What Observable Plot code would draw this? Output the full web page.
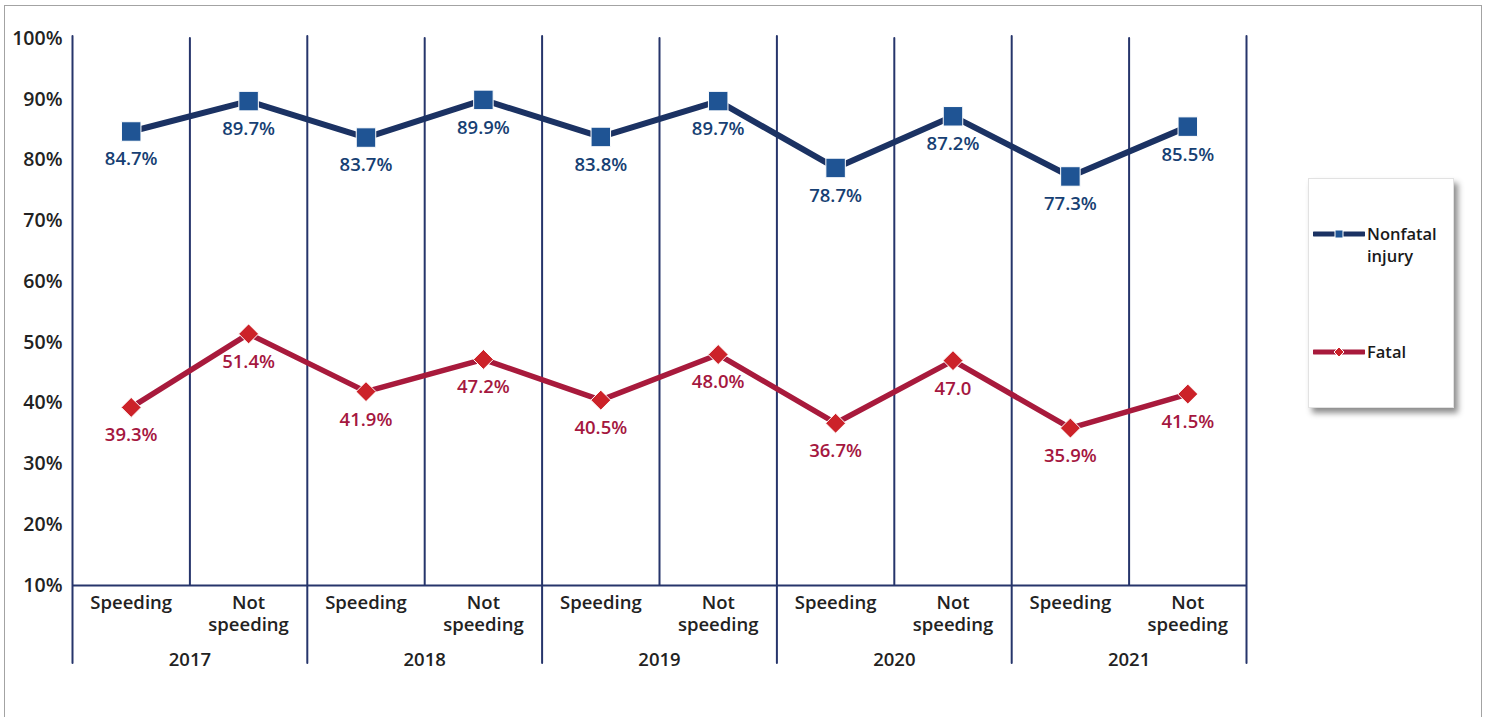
<!DOCTYPE html>
<html>
<head>
<meta charset="utf-8">
<script src="https://cdn.jsdelivr.net/npm/d3@7"></script>
<script src="https://cdn.jsdelivr.net/npm/@observablehq/plot@0.6"></script>
<style>
  html, body { margin: 0; padding: 0; background: #fff; }
  #wrap { position: relative; width: 1487px; height: 717px; overflow: hidden; font-family: "Open Sans", sans-serif; }
  #frame { position: absolute; left: 4px; top: 5px; width: 1478px; height: 760px; border: 1.5px solid #a3a3a3; box-sizing: border-box; pointer-events: none; }
  #chart { position: absolute; left: 0; top: 0; }
  #legend { position: absolute; left: 1308px; top: 178px; width: 146px; height: 230px; background: #fff;
            border: 1px solid #e2e2e2; box-sizing: border-box; box-shadow: 4px 5px 6px rgba(0,0,0,0.45); }
  .item { position: absolute; left: 4px; display: flex; align-items: flex-start; }
  .item span { font-size: 16.5px; font-weight: 600; color: #1a1a1a; line-height: 22px; margin-left: 2px; margin-top: -2px; }
</style>
</head>
<body>
<div id="wrap">
  <div id="chart"></div>
  <div id="legend"></div>
  <div id="frame"></div>
</div>
<script>
// ---- data ----
const years = [2017, 2018, 2019, 2020, 2021];
const statuses = ["Speeding", "Not speeding"];
const nonfatal = [84.7, 89.7, 83.7, 89.9, 83.8, 89.7, 78.7, 87.2, 77.3, 85.5];
const fatal = [39.3, 51.4, 41.9, 47.2, 40.5, 48.0, 36.7, 47.0, 35.9, 41.5];
const nonfatalLabels = ["84.7%", "89.7%", "83.7%", "89.9%", "83.8%", "89.7%", "78.7%", "87.2%", "77.3%", "85.5%"];
const fatalLabels = ["39.3%", "51.4%", "41.9%", "47.2%", "40.5%", "48.0%", "36.7%", "47.0", "35.9%", "41.5%"];
const yTicks = [10, 20, 30, 40, 50, 60, 70, 80, 90, 100];
const seriesNames = ["Nonfatal injury", "Fatal"];

// ---- build tables ----
const rows = nonfatal.map((v, i) => ({
  i, year: years[Math.floor(i / 2)], status: statuses[i % 2],
  nonfatal: v, fatal: fatal[i], nl: nonfatalLabels[i], fl: fatalLabels[i]
}));
const yearPos = years.map((y, k) => ({year: String(y), x: 2 * k + 0.5}));
const yearSeps = d3.range(years.length + 1).map(k => 2 * k - 0.5);
const innerSeps = years.map((y, k) => 2 * k + 0.5);

const navy = "#26356b";
const font = "'Open Sans', sans-serif";

const chart = Plot.plot({
  width: 1487,
  height: 717,
  marginLeft: 72,
  marginRight: 241,
  marginTop: 36,
  marginBottom: 54,
  style: {fontFamily: font, fontSize: "18.5px", background: "transparent", overflow: "visible"},
  x: {type: "linear", domain: [-0.5, 9.5], axis: null},
  y: {domain: [10, 100], range: [585, 38], axis: null},
  marks: [
    Plot.axisY(yTicks, {tickSize: 0, tickPadding: 10, tickFormat: d => d + "%", fill: "#222", fontWeight: 600, fontSize: 19.5}),
    // year separators (full height)
    Plot.ruleX(yearSeps, {stroke: navy, strokeWidth: 2, strokeLinecap: "round"}),
    // inner separators (to baseline)
    Plot.ruleX(innerSeps, {y1: 10, y2: 100, stroke: navy, strokeWidth: 2, strokeLinecap: "round"}),
    Plot.ruleY([10], {stroke: navy, strokeWidth: 2}),
    // category labels
    Plot.text(rows, {x: "i", y: () => 10, text: d => d.status === "Not speeding" ? "Not\nspeeding" : "Speeding",
      lineAnchor: "top", dy: 8, lineHeight: 1.2, fill: "#222", fontWeight: 600}),
    Plot.text(yearPos, {x: "x", y: () => 10, text: "year", lineAnchor: "top", dy: 67, fill: "#222", fontWeight: 600}),
    // nonfatal series
    Plot.line(rows, {x: "i", y: "nonfatal", stroke: "#1b3263", strokeWidth: 6}),
    Plot.dot(rows, {x: "i", y: "nonfatal", symbol: "square", r: 11, fill: "#1f5494", stroke: "#ffffff", strokeWidth: 1}),
    Plot.text(rows, {x: "i", y: "nonfatal", text: "nl", dy: 28, fill: "#173f73", fontWeight: 600}),
    // fatal series
    Plot.line(rows, {x: "i", y: "fatal", stroke: "#a81a3c", strokeWidth: 5.5}),
    Plot.dot(rows, {x: "i", y: "fatal", symbol: "diamond2", r: 9, fill: "#cc2229", stroke: "#ffffff", strokeWidth: 1}),
    Plot.text(rows, {x: "i", y: "fatal", text: "fl", dy: 28, fill: "#a5173f", fontWeight: 600})
  ]
});
document.getElementById("chart").appendChild(chart);

// ---- legend ----
const legend = document.getElementById("legend");
const legendItems = [
  {name: seriesNames[0], line: "#1b3263", mark: "#1f5494", sym: "square", top: 46},
  {name: seriesNames[1], line: "#a81a3c", mark: "#cc2229", sym: "diamond", top: 164}
];
for (const it of legendItems) {
  const div = document.createElement("div");
  div.className = "item";
  div.style.top = it.top + "px";
  const svg = d3.create("svg").attr("width", 52).attr("height", 18);
  svg.append("line").attr("x1", 1).attr("x2", 51).attr("y1", 9).attr("y2", 9)
    .attr("stroke", it.line).attr("stroke-width", 5).attr("stroke-linecap", "round");
  if (it.sym === "square") {
    svg.append("rect").attr("x", 22).attr("y", 5).attr("width", 8).attr("height", 8).attr("fill", it.mark).attr("stroke", "#fff").attr("stroke-width", 1);
  } else {
    svg.append("path").attr("d", "M26,4 L31,9 L26,14 L21,9 Z").attr("fill", it.mark).attr("stroke", "#fff").attr("stroke-width", 1);
  }
  div.appendChild(svg.node());
  const span = document.createElement("span");
  span.innerHTML = it.name.replace(" ", "<br>");
  div.appendChild(span);
  legend.appendChild(div);
}
</script>
</body>
</html>
